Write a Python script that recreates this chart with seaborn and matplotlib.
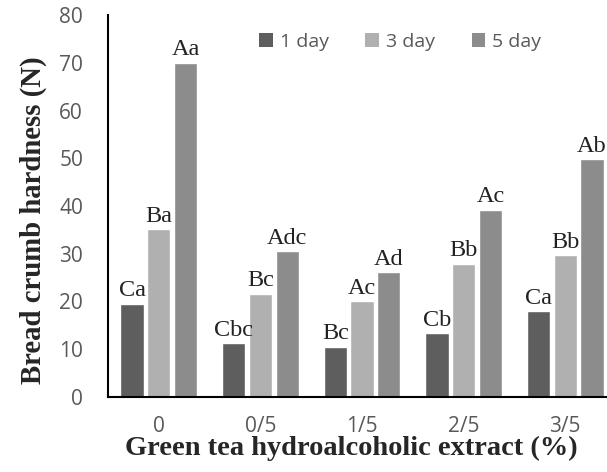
import matplotlib
matplotlib.use("Agg")
import matplotlib.pyplot as plt
import seaborn as sns
import pandas as pd
from matplotlib.patches import Patch

categories = ["0", "0/5", "1/5", "2/5", "3/5"]
days = ["1 day", "3 day", "5 day"]
day1 = [19.5, 11.3, 10.5, 13.4, 18.0]
day3 = [35.2, 21.6, 20.1, 27.9, 29.7]
day5 = [70.0, 30.6, 26.2, 39.2, 49.8]
letters1 = ["Ca", "Cbc", "Bc", "Cb", "Ca"]
letters3 = ["Ba", "Bc", "Ac", "Bb", "Bb"]
letters5 = ["Aa", "Adc", "Ad", "Ac", "Ab"]
colors = ["#5e5e5e", "#b0b0b0", "#8c8c8c"]

rows = []
for vals, labs, d in [(day1, letters1, days[0]), (day3, letters3, days[1]), (day5, letters5, days[2])]:
    for c, v, l in zip(categories, vals, labs):
        rows.append({"ext": c, "day": d, "hardness": v, "sig": l})
df = pd.DataFrame(rows)

sns.set_style("white")
fig = plt.figure(figsize=(6.07, 4.72), dpi=100)
ax = fig.add_axes([0.178, 0.159, 0.837, 0.809])

sns.barplot(data=df, x="ext", y="hardness", hue="day", order=categories,
            hue_order=days, palette=colors, width=0.79, gap=0.13,
            saturation=1, legend=False, ax=ax, errorbar=None)

# significance letters above each bar
for container, labs in zip(ax.containers, [letters1, letters3, letters5]):
    for bar, lab in zip(container, labs):
        ax.text(bar.get_x() + bar.get_width() / 2, bar.get_height() + 0.5, lab,
                ha="center", va="bottom", fontsize=17.5,
                family="Liberation Serif", color="#222222")

ax.set_ylim(0, 80)
ax.set_xlim(-0.5, 4.5)
ax.set_yticks(range(0, 81, 10))
ax.tick_params(axis="both", length=0, labelsize=15, labelcolor="#595959")
for lab in ax.get_xticklabels() + ax.get_yticklabels():
    lab.set_family("Open Sans")
ax.tick_params(axis="x", pad=14)
ax.tick_params(axis="y", pad=18)

for s in ["top", "right"]:
    ax.spines[s].set_visible(False)
for s in ["left", "bottom"]:
    ax.spines[s].set_color("black")
    ax.spines[s].set_linewidth(1.5)

ax.set_xlabel("Green tea hydroalcoholic extract (%)", family="Liberation Serif",
              fontweight="bold", fontsize=20.5)
ax.set_ylabel("Bread crumb hardness (N)", family="Liberation Serif",
              fontweight="bold", fontsize=20.7)
ax.xaxis.set_label_coords(0.479, -0.103)
ax.yaxis.set_label_coords(-0.12, 0.463)

handles = [Patch(facecolor=c, edgecolor="none") for c in colors]
leg = ax.legend(handles, days, loc="upper center", bbox_to_anchor=(0.575, 1.0),
                ncol=3, frameon=False, handlelength=0.7, handleheight=0.7,
                handletextpad=0.35, columnspacing=1.9,
                prop={"family": "Open Sans", "size": 14})
for t in leg.get_texts():
    t.set_color("#595959")

fig.savefig("out.png", dpi=100)
